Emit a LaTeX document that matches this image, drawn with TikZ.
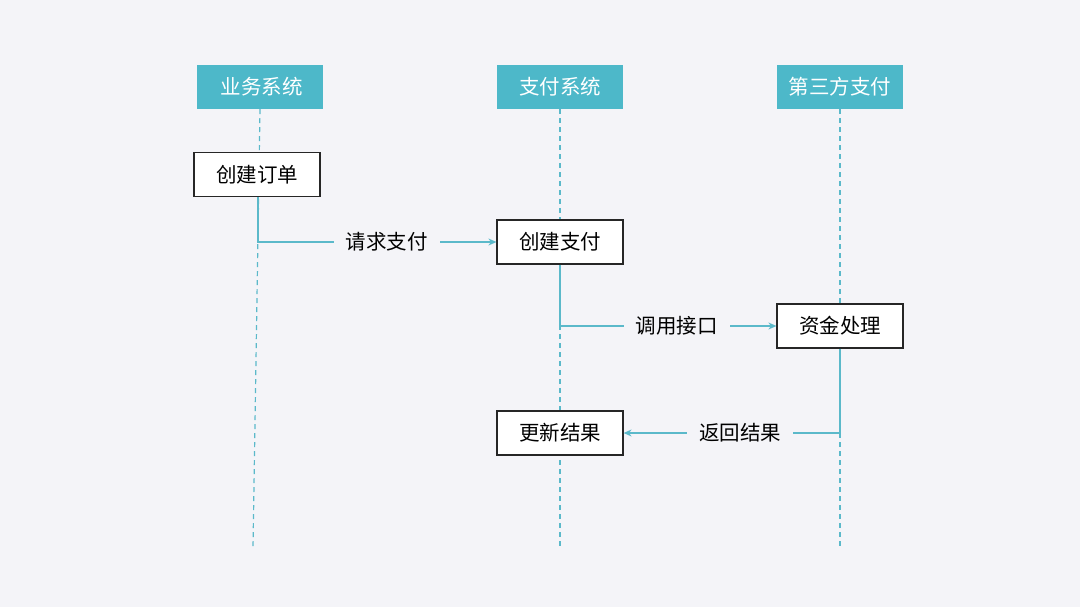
\documentclass[tikz,border=0pt]{standalone}
\usepackage{fontspec}
\setmainfont{Noto Sans CJK SC}
\usetikzlibrary{arrows.meta}
\definecolor{bgc}{HTML}{F4F4F8}
\definecolor{teal}{HTML}{4DB8C9}
\definecolor{linec}{HTML}{5BB9CA}
\tikzset{
  head/.style={fill=teal,text=white,minimum width=126pt,minimum height=44pt,inner sep=0pt,font=\fontsize{20.5}{22}\selectfont},
  stepbox/.style={draw=black!85,line width=1.2pt,fill=white,minimum width=126pt,minimum height=44pt,inner sep=0pt,font=\fontsize{20.5}{22}\selectfont},
  life/.style={draw=linec,line width=1.2pt,dash pattern=on 5pt off 4pt},
  msg/.style={draw=linec,line width=1.8pt,-{Stealth[length=8pt,width=7pt]}},
  lbl/.style={fill=bgc,inner sep=12pt,font=\fontsize{20.5}{22}\selectfont}
}
\begin{document}
\begin{tikzpicture}[x=1pt,y=-1pt]
\fill[bgc] (0,0) rectangle (1080,607);
\useasboundingbox (0,0) rectangle (1080,607);
% headers
\node[head] (h1) at (260,87) {\hspace*{3pt}业务系统};
\node[head] (h2) at (560,87) {支付系统};
\node[head] (h3) at (840,87) {第三方支付};
% lifeline ends
\coordinate (e1) at (253,548);
\coordinate (e2) at (560,548);
\coordinate (e3) at (840,548);
\draw[life] (h1.south) -- (e1);
\draw[life] (h2.south) -- (e2);
\draw[life] (h3.south) -- (e3);
% boxes
\node[stepbox] (b1) at (257,174.5) {创建订单};
\node[stepbox] (b2) at (560,242) {创建支付};
\node[stepbox] (b3) at (840,326) {资金处理};
\node[stepbox] (b4) at (560,433) {更新结果};
% messages
\draw[msg] (b1.south) ++(1,0) coordinate (s1) -- (s1 |- b2.west) -- (b2.west)
  node[lbl,pos=0.54] (l1) {请求支付};
\draw[msg] (b2.south) -- (b2.south |- b3.west) -- (b3.west)
  node[lbl,pos=0.54] (l2) {调用接口};
\draw[msg] (b3.south) -- (b3.south |- b4.east) -- (b4.east)
  node[lbl,pos=0.46] (l3) {返回结果};
\end{tikzpicture}
\end{document}
